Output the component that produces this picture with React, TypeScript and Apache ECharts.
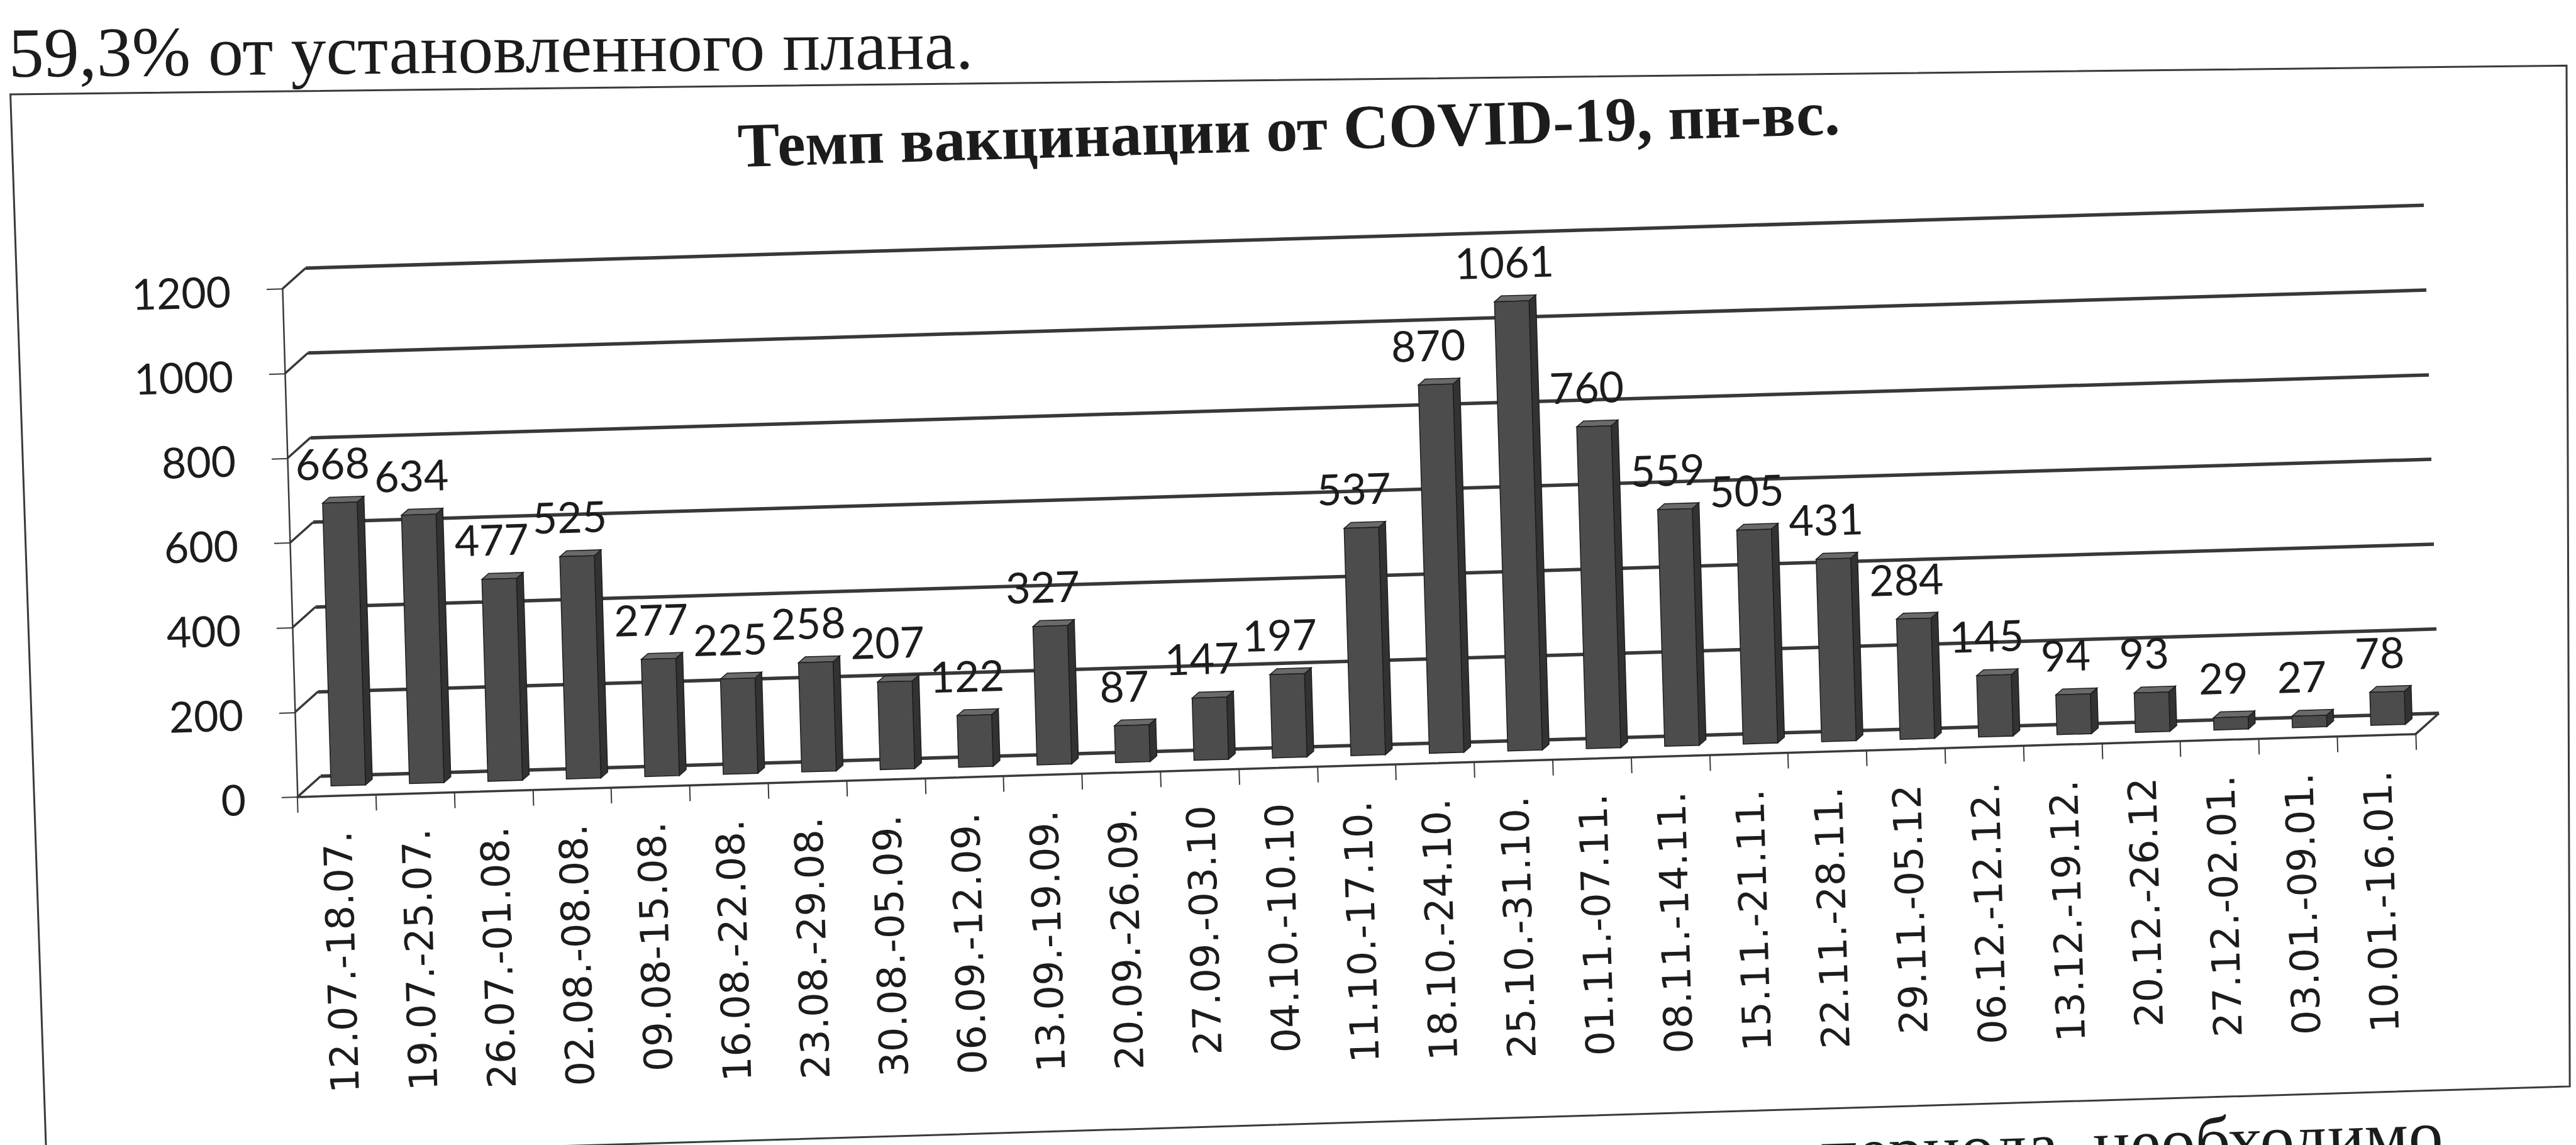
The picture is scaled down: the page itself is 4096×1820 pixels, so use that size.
import React, { useEffect, useRef } from "react";
import * as echarts from "echarts";

// ---------- data ----------
const categories = [
  "12.07.-18.07.", "19.07.-25.07.", "26.07.-01.08.", "02.08.-08.08.", "09.08-15.08.",
  "16.08.-22.08.", "23.08.-29.08.", "30.08.-05.09.", "06.09.-12.09.", "13.09.-19.09.",
  "20.09.-26.09.", "27.09.-03.10", "04.10.-10.10", "11.10.-17.10.", "18.10.-24.10.",
  "25.10.-31.10.", "01.11.-07.11.", "08.11.-14.11.", "15.11.-21.11.", "22.11.-28.11.",
  "29.11.-05.12", "06.12.-12.12.", "13.12.-19.12.", "20.12.-26.12", "27.12.-02.01.",
  "03.01.-09.01.", "10.01.-16.01.",
];
const values = [
  668, 634, 477, 525, 277, 225, 258, 207, 122, 327, 87, 147, 197, 537, 870,
  1061, 760, 559, 505, 431, 284, 145, 94, 93, 29, 27, 78,
];
const yTicks = [0, 200, 400, 600, 800, 1000, 1200];
const titleText = "Темп вакцинации от COVID-19, пн-вс.";
const textAbove = "59,3% от установленного плана.";
const textBelow = "периода, необходимо";

// ---------- layout (upright page, before the scan tilt) ----------
const W = 4096;
const H = 1820;
const PAD = 140;
const ROT_DEG = -1.7;
const MID_LEFT = 482;
const MID_BASE = 1204;
const CAT_W = 124.8;
const PLOT_H = 808;
const HALF_DX = 19;
const HALF_DY = -16;
const BAR_RATIO = 0.44;
const BAR_DX = 11;
const BAR_DY = -9;
const FRAME = [
  [40, 90],
  [4104, 165],
  [4061, 1787],
  [47, 1787],
];

// ---------- colours ----------
const TEXT = "#1c1c1c";
const LINE = "#3a3a3a";
const GRIDC = "#383838";
const FRONT = "#4c4c4c";
const SIDE = "#323232";
const TOPC = "#6a6a6a";
const EDGE = "#1e1e1e";

export default function App() {
  const ref = useRef<HTMLDivElement>(null);

  useEffect(() => {
    const el = ref.current;
    if (!el) return;
    const chart = echarts.init(el, undefined, { renderer: "svg" });
    const plotW = CAT_W * categories.length;
    const yMin = yTicks[0];
    const yMax = yTicks[yTicks.length - 1];
    const yStep = yTicks[1] - yTicks[0];

    const grid = (dx: number, dy: number) => ({
      left: PAD + MID_LEFT + dx,
      top: PAD + MID_BASE + dy - PLOT_H,
      width: plotW,
      height: PLOT_H,
      containLabel: false,
      outerBoundsMode: "none",
    });

    const diagData: number[][] = yTicks.map((v) => [0, v, -1]);
    diagData.push([categories.length - 1, yMin, 1]);

    const option: any = {
      animation: false,
      backgroundColor: "#ffffff",
      grid: [grid(-HALF_DX, -HALF_DY), grid(0, 0), grid(HALF_DX, HALF_DY)],
      xAxis: [
        {
          gridIndex: 0,
          type: "category",
          data: categories,
          axisLine: { show: true, lineStyle: { color: LINE, width: 3.5 } },
          axisTick: { show: true, length: 25, lineStyle: { color: LINE, width: 2 } },
          axisLabel: {
            interval: 0,
            rotate: 90,
            margin: 56,
            fontFamily: "DejaVu Sans",
            fontSize: 62,
            color: TEXT,
          },
          splitLine: { show: false },
        },
        { gridIndex: 1, type: "category", data: categories, show: false },
        { gridIndex: 2, type: "category", data: categories, show: false },
      ],
      yAxis: [
        {
          gridIndex: 0,
          type: "value",
          min: yMin,
          max: yMax,
          interval: yStep,
          axisLine: { show: true, lineStyle: { color: LINE, width: 2.5 } },
          axisTick: { show: true, length: 25, lineStyle: { color: LINE, width: 2 } },
          axisLabel: {
            margin: 82,
            fontFamily: "Lato",
            fontSize: 68,
            color: TEXT,
            formatter: (v: number) => String(v),
          },
          splitLine: { show: false },
        },
        { gridIndex: 1, type: "value", min: yMin, max: yMax, interval: yStep, show: false },
        {
          gridIndex: 2,
          type: "value",
          min: yMin,
          max: yMax,
          interval: yStep,
          axisLine: { show: false },
          axisTick: { show: false },
          axisLabel: { show: false },
          splitLine: { show: true, lineStyle: { color: GRIDC, width: 5.5 } },
        },
      ],
      series: [
        {
          type: "custom",
          xAxisIndex: 0,
          yAxisIndex: 0,
          silent: true,
          data: diagData,
          renderItem: (params: any, api: any) => {
            const p = api.coord([api.value(0), api.value(1)]);
            const half = api.size([1, 0])[0] / 2;
            const x0 = p[0] + api.value(2) * half;
            return {
              type: "line",
              shape: { x1: x0, y1: p[1], x2: x0 + 2 * HALF_DX, y2: p[1] + 2 * HALF_DY },
              style: { stroke: GRIDC, lineWidth: 3.5 },
            };
          },
        },
        {
          type: "custom",
          xAxisIndex: 1,
          yAxisIndex: 1,
          silent: true,
          z: 3,
          data: values.map((v, i) => [i, v]),
          encode: { x: 0, y: 1 },
          renderItem: (params: any, api: any) => {
            const top = api.coord([api.value(0), api.value(1)]);
            const base = api.coord([api.value(0), 0]);
            const w = api.size([1, 0])[0] * BAR_RATIO;
            const l = top[0] - w / 2;
            const r = top[0] + w / 2;
            return {
              type: "group",
              children: [
                {
                  type: "polygon",
                  shape: {
                    points: [
                      [r, top[1]],
                      [r + BAR_DX, top[1] + BAR_DY],
                      [r + BAR_DX, base[1] + BAR_DY],
                      [r, base[1]],
                    ],
                  },
                  style: { fill: SIDE, stroke: EDGE, lineWidth: 1.5 },
                },
                {
                  type: "polygon",
                  shape: {
                    points: [
                      [l, top[1]],
                      [r, top[1]],
                      [r + BAR_DX, top[1] + BAR_DY],
                      [l + BAR_DX, top[1] + BAR_DY],
                    ],
                  },
                  style: { fill: TOPC, stroke: EDGE, lineWidth: 1.5 },
                },
                {
                  type: "rect",
                  shape: { x: l, y: top[1], width: w, height: base[1] - top[1] },
                  style: { fill: FRONT, stroke: EDGE, lineWidth: 1.5 },
                },
              ],
            };
          },
        },
        {
          type: "bar",
          xAxisIndex: 1,
          yAxisIndex: 1,
          silent: true,
          z: 5,
          data: values,
          barWidth: "44%",
          itemStyle: { color: "rgba(0,0,0,0)" },
          label: {
            show: true,
            position: "top",
            distance: 30,
            offset: [-10, 0],
            fontFamily: "Lato",
            fontSize: 68,
            color: TEXT,
          },
        },
      ],
      graphic: [
        {
          type: "polygon",
          silent: true,
          shape: { points: FRAME.map(([x, y]) => [x + PAD, y + PAD]) },
          style: { fill: "none", stroke: LINE, lineWidth: 3 },
        },
        {
          type: "text",
          x: PAD + 2070,
          y: PAD + 206,
          silent: true,
          style: {
            text: titleText,
            fontFamily: "Liberation Serif",
            fontWeight: "bold",
            fontSize: 100,
            fill: TEXT,
            align: "center",
            verticalAlign: "middle",
            textAlign: "center",
            textVerticalAlign: "middle",
          },
        },
        {
          type: "text",
          x: PAD + 39,
          y: PAD + 24,
          rotation: (-1.2 * Math.PI) / 180,
          silent: true,
          style: {
            text: textAbove,
            fontFamily: "Liberation Serif",
            fontSize: 112,
            fill: TEXT,
            align: "left",
            verticalAlign: "middle",
            textAlign: "left",
            textVerticalAlign: "middle",
          },
        },
        {
          type: "text",
          x: PAD + 3857,
          y: PAD + 1857,
          silent: true,
          style: {
            text: textBelow,
            fontFamily: "Liberation Serif",
            fontSize: 110,
            fill: TEXT,
            align: "right",
            verticalAlign: "middle",
            textAlign: "right",
            textVerticalAlign: "middle",
          },
        },
      ],
    };

    chart.setOption(option);
    return () => chart.dispose();
  }, []);

  return (
    <div
      style={{
        position: "fixed",
        left: 0,
        top: 0,
        width: W,
        height: H,
        overflow: "hidden",
        background: "#ffffff",
      }}
    >
      <div
        ref={ref}
        style={{
          position: "absolute",
          left: -PAD,
          top: -PAD,
          width: W + 2 * PAD,
          height: H + 2 * PAD,
          transform: `rotate(${ROT_DEG}deg)`,
          transformOrigin: "50% 50%",
        }}
      />
    </div>
  );
}
